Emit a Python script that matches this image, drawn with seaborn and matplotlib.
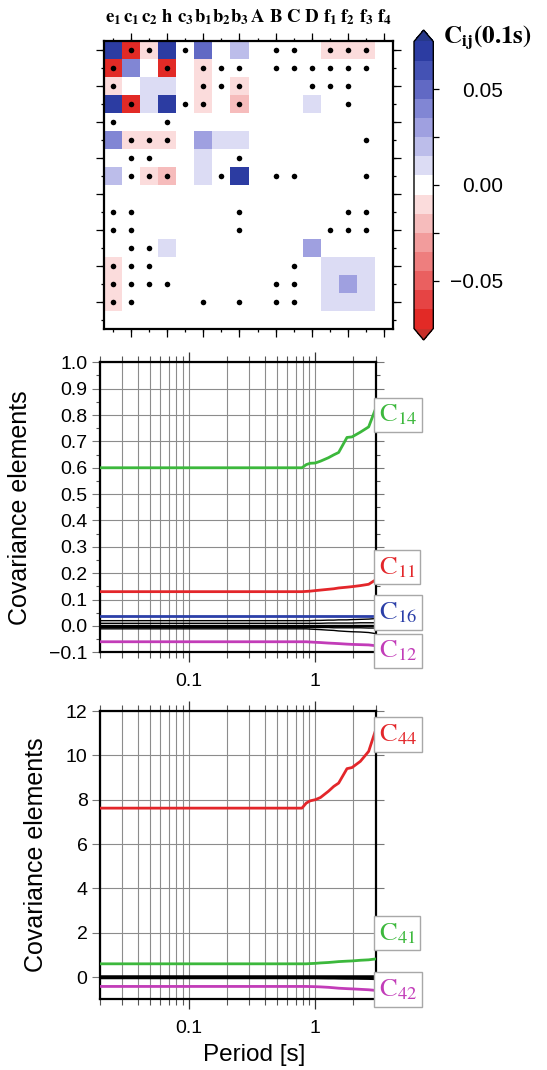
import numpy as np
import pandas as pd
import matplotlib
matplotlib.use("Agg")
import matplotlib.pyplot as plt
import matplotlib.transforms as mtransforms
from matplotlib.colors import ListedColormap
from matplotlib.ticker import FixedLocator, FuncFormatter, MultipleLocator, LogLocator, NullFormatter
import seaborn as sns

sns.set_theme(style="white")
plt.rcParams["font.family"] = ["Liberation Sans", "DejaVu Sans"]
plt.rcParams["mathtext.fontset"] = "stix"
plt.rcParams["axes.unicode_minus"] = True

nan = np.nan

# ---------------- data: covariance matrix at 0.1 s ----------------
param_labels = [r"$\mathbf{e_1}$", r"$\mathbf{c_1}$", r"$\mathbf{c_2}$", r"$\mathbf{h}$",
                r"$\mathbf{c_3}$", r"$\mathbf{b_1}$", r"$\mathbf{b_2}$", r"$\mathbf{b_3}$",
                r"$\mathbf{A}$", r"$\mathbf{B}$", r"$\mathbf{C}$", r"$\mathbf{D}$",
                r"$\mathbf{f_1}$", r"$\mathbf{f_2}$", r"$\mathbf{f_3}$", r"$\mathbf{f_4}$"]

cov_rows = [
    [0.07, -0.07, -0.01, 0.07, nan, 0.045, nan, 0.02, nan, nan, nan, nan, -0.01, -0.01, -0.01, nan],
    [-0.07, 0.04, nan, -0.07, nan, -0.01, nan, nan, nan, nan, nan, nan, nan, nan, nan, nan],
    [-0.01, nan, 0.01, 0.01, nan, -0.01, nan, -0.01, nan, nan, nan, nan, nan, nan, nan, nan],
    [0.07, -0.07, 0.01, 0.07, nan, -0.01, nan, -0.02, nan, nan, nan, 0.01, nan, nan, nan, nan],
    [nan, nan, nan, nan, nan, nan, nan, nan, nan, nan, nan, nan, nan, nan, nan, nan],
    [0.04, -0.01, -0.01, -0.01, nan, 0.03, 0.01, 0.01, nan, nan, nan, nan, nan, nan, nan, nan],
    [nan, nan, nan, nan, nan, 0.01, nan, nan, nan, nan, nan, nan, nan, nan, nan, nan],
    [0.02, nan, -0.01, -0.02, nan, 0.01, nan, 0.07, nan, nan, nan, nan, nan, nan, nan, nan],
    [nan, nan, nan, nan, nan, nan, nan, nan, nan, nan, nan, nan, nan, nan, nan, nan],
    [nan, nan, nan, nan, nan, nan, nan, nan, nan, nan, nan, nan, nan, nan, nan, nan],
    [nan, nan, nan, nan, nan, nan, nan, nan, nan, nan, nan, nan, nan, nan, nan, nan],
    [nan, nan, nan, 0.01, nan, nan, nan, nan, nan, nan, nan, 0.025, nan, nan, nan, nan],
    [-0.01, nan, nan, nan, nan, nan, nan, nan, nan, nan, nan, nan, 0.01, 0.01, 0.01, nan],
    [-0.01, nan, nan, nan, nan, nan, nan, nan, nan, nan, nan, nan, 0.01, 0.025, 0.01, nan],
    [-0.01, nan, nan, nan, nan, nan, nan, nan, nan, nan, nan, nan, 0.01, 0.01, 0.01, nan],
    [nan, nan, nan, nan, nan, nan, nan, nan, nan, nan, nan, nan, nan, nan, nan, nan],
]

# cells marked with a dot: row -> list of columns
dot_cells = {
    0: [1, 2, 4, 9, 10, 12, 13, 14],
    1: [0, 3, 5, 6, 7, 9, 10, 11, 12, 13, 14],
    2: [0, 5, 6, 7, 11, 12, 13],
    3: [1, 4, 5, 7, 13],
    4: [0, 3],
    5: [1, 2, 3, 14],
    6: [1, 2, 7],
    7: [1, 2, 3, 6, 9, 10, 14],
    9: [0, 1, 7, 13, 14],
    10: [0, 1, 7, 12, 13, 14],
    11: [1, 2],
    12: [0, 1, 2, 10],
    13: [0, 1, 2, 3, 9, 10],
    14: [0, 1, 5, 7, 9, 10],
}

cbar_ticks = [-0.05, -0.025, 0.0, 0.025, 0.05]
cbar_ticklabels = ["\u22120.05", "", "0.00", "", "0.05"]

# ---------------- data: covariance elements vs period ----------------
periods = [0.02, 0.785, 0.85, 0.913, 1.0, 1.1, 1.27, 1.4, 1.53, 1.78, 1.95, 2.27, 2.64, 3.0]

c14 = [0.60, 0.60, 0.612, 0.617, 0.618, 0.625, 0.638, 0.649, 0.658, 0.715, 0.717, 0.735, 0.755, 0.825]
c11 = [0.130, 0.130, 0.131, 0.132, 0.134, 0.136, 0.139, 0.141, 0.144, 0.147, 0.149, 0.153, 0.158, 0.175]
c16 = [0.038, 0.038, 0.038, 0.038, 0.038, 0.038, 0.038, 0.038, 0.038, 0.038, 0.038, 0.038, 0.038, 0.038]
c12 = [-0.060, -0.060, -0.060, -0.061, -0.062, -0.063, -0.065, -0.066, -0.067, -0.069, -0.070, -0.071, -0.072, -0.075]
black_top = [
    [0.020, 0.020, 0.020, 0.020, 0.021, 0.021, 0.022, 0.022, 0.023, 0.023, 0.024, 0.025, 0.026, 0.028],
    [0.010, 0.010, 0.010, 0.010, 0.010, 0.010, 0.011, 0.011, 0.011, 0.011, 0.011, 0.012, 0.012, 0.012],
    [0.004, 0.004, 0.004, 0.004, 0.004, 0.004, 0.004, 0.004, 0.004, 0.004, 0.004, 0.004, 0.004, 0.004],
    [-0.002, -0.002, -0.002, -0.002, -0.002, -0.002, -0.002, -0.002, -0.002, -0.002, -0.002, -0.002, -0.002, -0.002],
    [-0.006, -0.006, -0.006, -0.006, -0.006, -0.006, -0.006, -0.007, -0.007, -0.007, -0.007, -0.007, -0.008, -0.008],
    [-0.011, -0.011, -0.011, -0.012, -0.013, -0.014, -0.016, -0.017, -0.019, -0.021, -0.022, -0.023, -0.025, -0.029],
]

c44 = [7.62, 7.62, 7.85, 7.95, 8.0, 8.10, 8.38, 8.60, 8.75, 9.40, 9.45, 9.73, 10.18, 11.15]
c41 = [0.60, 0.60, 0.60, 0.61, 0.62, 0.64, 0.66, 0.68, 0.70, 0.72, 0.73, 0.76, 0.78, 0.82]
c42 = [-0.42, -0.42, -0.42, -0.425, -0.43, -0.44, -0.46, -0.48, -0.50, -0.52, -0.53, -0.55, -0.57, -0.60]
black_bot = [
    [0.05, 0.05, 0.05, 0.05, 0.05, 0.05, 0.05, 0.05, 0.05, 0.05, 0.05, 0.05, 0.05, 0.05],
    [0.0, 0.0, 0.0, 0.0, 0.0, 0.0, 0.0, 0.0, 0.0, 0.0, 0.0, 0.0, 0.0, 0.0],
    [-0.04, -0.04, -0.04, -0.04, -0.04, -0.045, -0.05, -0.05, -0.055, -0.06, -0.06, -0.065, -0.07, -0.08],
]

GREEN, RED, BLUE, MAGENTA = "#3cb83c", "#e3262a", "#2b3fa8", "#c23cb8"

# 15 discrete colour bins (-0.075 .. 0.075, step 0.01)
bin_colors = ["#e22a26", "#e64444", "#ea6060", "#ee7e7e", "#f29c9c", "#f6bcbc", "#fbdcdc",
              "#ffffff",
              "#dcdcf4", "#bcbdea", "#9fa0e0", "#8186d4", "#6169c4", "#4452b4", "#2c3ca2"]

# ---------------- figure ----------------
W, H = 547, 1070
fig = plt.figure(figsize=(W / 100, H / 100), dpi=100)
fig.patch.set_facecolor("white")


def frac(x0, y0, x1, y1):
    return [x0 / W, 1 - y1 / H, (x1 - x0) / W, (y1 - y0) / H]


# ---------- heatmap ----------
ax0 = fig.add_axes(frac(104, 41, 393, 329))
cax = fig.add_axes(frac(414, 30, 433.3, 340))

cmap = ListedColormap(bin_colors)
cmap.set_over("#26388a")
cmap.set_under("#c8302a")

mat = pd.DataFrame(cov_rows)
sns.heatmap(mat, ax=ax0, cmap=cmap, vmin=-0.075, vmax=0.075, cbar_ax=cax,
            cbar_kws=dict(extend="both", extendfrac=0.04, ticks=cbar_ticks),
            xticklabels=False, yticklabels=False)

dr, dc = [], []
for r, cl in dot_cells.items():
    for c in cl:
        dr.append(r + 0.5)
        dc.append(c + 0.5)
sns.scatterplot(x=dc, y=dr, ax=ax0, color="black", s=16, linewidth=0, legend=False, zorder=4)
ax0.set_xlim(0, 16)
ax0.set_ylim(16, 0)
ax0.set_xlabel("")
ax0.set_ylabel("")
for s in ax0.spines.values():
    s.set_visible(True)
    s.set_linewidth(1.6)
    s.set_color("black")

ax0.xaxis.remove_overlapping_locs = False
ax0.yaxis.remove_overlapping_locs = False
ax0.set_xticks(np.arange(16) + 0.5)
ax0.set_xticklabels(param_labels)
ax0.set_xticks(np.arange(1, 16, 2) + 0.5, minor=True)
ax0.set_yticks(np.arange(16) + 0.5)
ax0.set_yticks(np.arange(0, 16, 2) + 0.5, minor=True)
ax0.tick_params(axis="x", which="major", top=True, bottom=True, labeltop=True, labelbottom=False,
                length=2.5, width=0.9, direction="out", color="black", pad=11, labelsize=13.5,
                labelcolor="black")
ax0.tick_params(axis="x", which="minor", top=True, bottom=True, length=5.5, width=0.9,
                direction="out", color="black")
ax0.tick_params(axis="y", which="both", left=True, right=True, labelleft=False, labelright=False,
                direction="out", width=0.9, color="black")
ax0.tick_params(axis="y", which="major", length=2.5)
ax0.tick_params(axis="y", which="minor", length=5.5)
for lab in ax0.get_xticklabels():
    lab.set_va("baseline")

cb = ax0.collections[0].colorbar
cb.outline.set_linewidth(1.0)
cb.outline.set_edgecolor("black")
cb.set_ticks(cbar_ticks)
cb.set_ticklabels(cbar_ticklabels)
cax.tick_params(axis="y", right=True, length=4, width=0.9, direction="out", color="black",
                labelsize=15, pad=46, labelcolor="black")
for lab in cax.get_yticklabels():
    lab.set_ha("right")
fig.text(443 / W, 1 - 38 / H, r"$\mathbf{C_{ij}(0.1s)}$", fontsize=18, ha="left", va="center",
         color="black")

# ---------- line panels ----------
ax1 = fig.add_axes(frac(100, 362.3, 375.7, 652.3))
ax2 = fig.add_axes(frac(100, 711, 375.7, 999.3))

minus_fmt1 = FuncFormatter(lambda v, p: f"{v:.1f}".replace("-", "\u2212"))
minus_fmt0 = FuncFormatter(lambda v, p: f"{v:.0f}".replace("-", "\u2212"))

for ax in (ax1, ax2):
    ax.set_xscale("log")
    ax.set_xlim(0.02, 3.0)
    ax.set_facecolor("white")

for ys in black_top:
    sns.lineplot(x=periods, y=ys, ax=ax1, color="black", linewidth=1.0, legend=False, zorder=3)
sns.lineplot(x=periods, y=c16, ax=ax1, color=BLUE, linewidth=2, legend=False, zorder=4)
sns.lineplot(x=periods, y=c12, ax=ax1, color=MAGENTA, linewidth=2, legend=False, zorder=4)
sns.lineplot(x=periods, y=c11, ax=ax1, color=RED, linewidth=2, legend=False, zorder=4)
sns.lineplot(x=periods, y=c14, ax=ax1, color=GREEN, linewidth=2, legend=False, zorder=4)

for ys in black_bot:
    sns.lineplot(x=periods, y=ys, ax=ax2, color="black", linewidth=1.8, legend=False, zorder=3)
sns.lineplot(x=periods, y=c42, ax=ax2, color=MAGENTA, linewidth=2, legend=False, zorder=4)
sns.lineplot(x=periods, y=c41, ax=ax2, color=GREEN, linewidth=2, legend=False, zorder=4)
sns.lineplot(x=periods, y=c44, ax=ax2, color=RED, linewidth=2, legend=False, zorder=4)

ax1.set_ylim(-0.1, 1.0)
ax1.yaxis.set_major_locator(MultipleLocator(0.1))
ax1.yaxis.set_minor_locator(MultipleLocator(0.05))
ax1.yaxis.set_major_formatter(minus_fmt1)
ax2.set_ylim(-1, 12)
ax2.yaxis.set_major_locator(FixedLocator([0, 2, 4, 6, 8, 10, 12]))
ax2.yaxis.set_major_formatter(minus_fmt0)

for ax in (ax1, ax2):
    ax.xaxis.set_major_locator(FixedLocator([0.1, 1.0]))
    ax.xaxis.set_major_formatter(FuncFormatter(lambda v, p: "0.1" if v < 0.5 else "1"))
    ax.xaxis.set_minor_locator(LogLocator(base=10, subs=(2, 3, 4, 5, 6, 7, 8, 9), numticks=20))
    ax.xaxis.set_minor_formatter(NullFormatter())
    ax.grid(True, which="both", axis="x", color="#8c8c8c", linewidth=0.8)
    ax.grid(True, which="major", axis="y", color="#8c8c8c", linewidth=0.8)
    ax.set_axisbelow(True)
    for s in ax.spines.values():
        s.set_visible(True)
        s.set_linewidth(1.6)
        s.set_color("black")
    ax.tick_params(axis="both", which="both", direction="out", top=True, right=True,
                   bottom=True, left=True, labelsize=14, labelcolor="black")
    ax.tick_params(axis="x", which="major", length=7, width=0.9, color="#333333")
    ax.tick_params(axis="x", which="minor", length=4, width=0.8, color="#555555")
    ax.tick_params(axis="y", which="major", length=6, width=0.8, color="#777777", pad=3)
    ax.tick_params(axis="y", which="minor", length=3, width=0.8, color="#555555")
    ax.tick_params(axis="x", which="major", pad=8)
    ax.set_ylabel("Covariance elements", fontsize=18, color="black")
    ax.set_xlabel("")

ax1.yaxis.set_label_coords(-0.245, 0.5)
ax2.yaxis.set_label_coords(-0.19, 0.5)
ax2.set_xlabel("Period [s]", fontsize=17.5, color="black")
ax2.xaxis.set_label_coords(0.56, -0.155)


def tag(ax, y, txt, color):
    tr = mtransforms.blended_transform_factory(ax.transAxes, ax.transData)
    ax.text(1.012, y, txt, transform=tr, ha="left", va="center", fontsize=19, color=color,
            clip_on=False, zorder=6,
            bbox=dict(boxstyle="square,pad=0.18", fc="white", ec="#a8a8a8", lw=1.0))


tag(ax1, 0.80, r"$\mathrm{C}_{14}$", GREEN)
tag(ax1, 0.222, r"$\mathrm{C}_{11}$", RED)
tag(ax1, 0.051, r"$\mathrm{C}_{16}$", BLUE)
tag(ax1, -0.095, r"$\mathrm{C}_{12}$", MAGENTA)
tag(ax2, 10.94, r"$\mathrm{C}_{44}$", RED)
tag(ax2, 1.97, r"$\mathrm{C}_{41}$", GREEN)
tag(ax2, -0.56, r"$\mathrm{C}_{42}$", MAGENTA)

fig.savefig("out.png", dpi=100, facecolor="white")
